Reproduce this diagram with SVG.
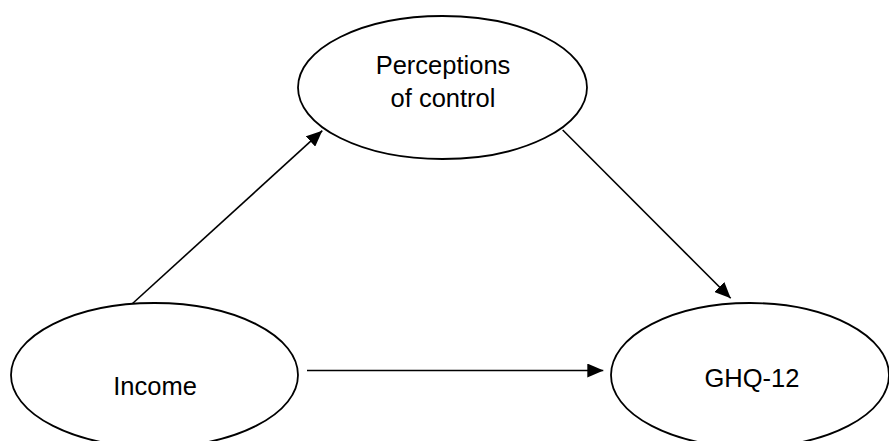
<svg xmlns="http://www.w3.org/2000/svg" width="889" height="441" viewBox="0 0 889 441">
<style>
.node ellipse{fill:#ffffff;stroke:#000000;stroke-width:1.8}
.node text{font-family:"Liberation Sans",Arial,sans-serif;font-size:25.5px;fill:#000000;text-anchor:middle}
.edge{stroke:#000000;stroke-width:1.6;fill:none;marker-end:url(#arrow)}
</style>
<defs>
<marker id="arrow" markerUnits="userSpaceOnUse" markerWidth="16" markerHeight="14" refX="16" refY="7" orient="auto">
<path d="M0,0 L16,7 L0,14 Z" fill="#000000"/>
</marker>
</defs>
<rect width="889" height="441" fill="#ffffff"/>
<g id="connectors">
<line class="edge" x1="132" y1="304" x2="322.3" y2="130.7"/>
<line class="edge" x1="562.7" y1="130" x2="730.7" y2="298.3"/>
<line class="edge" x1="307" y1="370.5" x2="603.3" y2="370.5"/>
</g>
<g id="node-perceptions" class="node">
<ellipse cx="442.5" cy="87.5" rx="144.5" ry="71.5"/>
<text x="443" y="74">Perceptions</text>
<text x="443" y="107">of control</text>
</g>
<g id="node-income" class="node">
<ellipse cx="154.5" cy="375" rx="143.5" ry="72"/>
<text x="155" y="395">Income</text>
</g>
<g id="node-ghq" class="node">
<ellipse cx="750" cy="375" rx="139" ry="72"/>
<text x="752" y="387">GHQ-12</text>
</g>
</svg>
